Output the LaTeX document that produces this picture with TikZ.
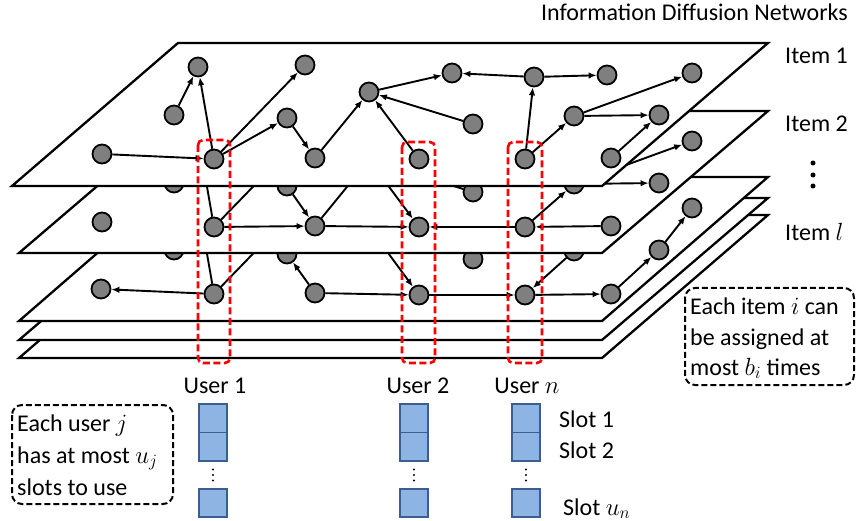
\documentclass[tikz,border=0pt]{standalone}
\usepackage{fontspec}
\setmainfont{Carlito}
\usetikzlibrary{arrows.meta}
\definecolor{ndgray}{HTML}{7F7F7F}
\definecolor{slotfill}{HTML}{8EB4E3}
\definecolor{slotdraw}{HTML}{3A5F8E}
\begin{document}
\begin{tikzpicture}[x=1pt,y=-1pt,
  font=\fontsize{24}{28}\selectfont,
  plane/.style={draw=black, line width=2.3pt, fill=white, line join=miter},
  nd/.style={circle, draw=black, fill=ndgray, line width=1.8pt, minimum size=19pt, inner sep=0pt},
  ar/.style={line width=1.9pt, -{Latex[length=8pt,width=6.5pt]}},
  ln/.style={line width=1.9pt},
  ubox/.style={draw=red, line width=2.6pt, dash pattern=on 7pt off 3.5pt, rounded corners=5pt},
  slot/.style={draw=slotdraw, fill=slotfill, line width=1.8pt, minimum width=28pt, minimum height=28.5pt, inner sep=0pt},
  note/.style={draw=black, line width=2pt, dash pattern=on 6pt off 3pt, rounded corners=10pt},
  lbl/.style={anchor=base west, inner sep=0pt},
  ulbl/.style={anchor=base, inner sep=0pt}
]
\useasboundingbox (0,0) rectangle (857,521);

% ---- lower planes ----
\draw[plane] (19,358) -- (602,358) -- (768,215) -- (185,215) -- cycle;
\draw[plane] (19,340) -- (602,340) -- (768,198) -- (185,198) -- cycle;
\draw[plane] (19,321) -- (602,321) -- (768,177) -- (185,177) -- cycle;

% ---- plane 3 (Item l) ----
\node[nd] (c1) at (101,289) {};
\node[nd] (c2) at (214,294) {};
\node[nd] (c3) at (315,293) {};
\node[nd] (c4) at (419,295) {};
\node[nd] (c6) at (525,295) {};
\node[nd] (c7) at (611,294) {};
\node[nd] (c16) at (659,250) {};
\node[nd] (c13) at (692,208) {};
\node[nd] (ca1) at (198,202) {};
\node[nd] (ca2) at (305,200) {};
\node[nd] (ca5) at (369,227) {};
\node[nd] (ca3) at (174,250) {};
\node[nd] (ca4) at (287,254) {};
\node[nd] (ca14) at (473,259) {};
\node[nd] (ca15) at (574,251) {};
\draw[ar] (c2) -- (c1);
\draw[ln] (c2) -- (ca1);
\draw[ln] (c2) -- (ca2);
\draw[ar] (c3) -- (ca4);
\draw[ar] (c3) -- (c4);
\draw[ar] (ca5) -- (c4);
\draw[ar] (c4) -- (c6);
\draw[ar] (c6) -- (c7);
\draw[ar] (ca15) -- (c6);
\draw[ar] (c7) -- (c16);
\draw[ar] (c16) -- (c13);

% ---- plane 2 (Item 2) ----
\draw[plane] (19,253) -- (602,253) -- (768,111) -- (185,111) -- cycle;
\node[nd] (b1) at (102,222) {};
\node[nd] (b2) at (214,227) {};
\node[nd] (b3) at (315,226) {};
\node[nd] (b4) at (419,227) {};
\node[nd] (b6) at (525,227) {};
\node[nd] (b7) at (611,226) {};
\node[nd] (b16) at (659,183) {};
\node[nd] (b13) at (692,141) {};
\node[nd] (ba1) at (198,135) {};
\node[nd] (ba2) at (305,133) {};
\node[nd] (ba5) at (369,160) {};
\node[nd] (ba3) at (174,183) {};
\node[nd] (ba4) at (287,186) {};
\node[nd] (ba14) at (473,192) {};
\node[nd] (ba15) at (574,184) {};
\draw[ln] (b2) -- (ba1);
\draw[ln] (b2) -- (ba2);
\draw[ar] (ba4) -- (b3);
\draw[ln] (b3) -- (ba5);
\draw[ar] (ba5) -- (b4);
\draw[ar] (b2) -- (b3);
\draw[ar] (b3) -- (b4);
\draw[ar] (b6) -- (b4);
\draw[ar] (b7) -- (b6);
\draw[ar] (b6) -- (ba15);
\draw[ln] (ba14) -- (ba5);
\draw[ar] (ba15) -- (b16);
\draw[ar] (ba15) -- (b13);

% ---- plane 1 (Item 1) ----
\draw[plane] (12,186) -- (602,186) -- (768,43) -- (178,43) -- cycle;
\node[nd] (a1) at (198,67) {};
\node[nd] (a2) at (305,65) {};
\node[nd] (a3) at (174,115) {};
\node[nd] (a4) at (287,118) {};
\node[nd] (a5) at (369,92) {};
\node[nd] (a6) at (102,154) {};
\node[nd] (a7) at (214,159) {};
\node[nd] (a8) at (315,158) {};
\node[nd] (a9) at (419,159) {};
\node[nd] (a10) at (452,73) {};
\node[nd] (a11) at (534,77) {};
\node[nd] (a12) at (607,75) {};
\node[nd] (a13) at (692,73) {};
\node[nd] (a14) at (473,124) {};
\node[nd] (a15) at (574,116) {};
\node[nd] (a16) at (659,115) {};
\node[nd] (a17) at (525,159) {};
\node[nd] (a18) at (611,158) {};
\draw[ar] (a3) -- (a1);
\draw[ar] (a7) -- (a1);
\draw[ar] (a7) -- (a2);
\draw[ar] (a7) -- (a4);
\draw[ar] (a6) -- (a7);
\draw[ar] (a4) -- (a8);
\draw[ar] (a8) -- (a5);
\draw[ar] (a9) -- (a5);
\draw[ar] (a14) -- (a5);
\draw[ar] (a5) -- (a10);
\draw[ar] (a11) -- (a10);
\draw[ar] (a11) -- (a12);
\draw[ar] (a17) -- (a11);
\draw[ar] (a17) -- (a15);
\draw[ar] (a15) -- (a16);
\draw[ar] (a15) -- (a13);
\draw[ar] (a18) -- (a16);

% ---- user boxes ----
\draw[ubox] (198,140) rectangle (230,363);
\draw[ubox] (402,142) rectangle (435,363);
\draw[ubox] (508,142) rectangle (542,363);

% ---- labels ----
\node[anchor=base east, inner sep=0pt] (title) at (848,21) {Information Diffusion Networks};
\node[lbl] (it1) at (785,64) {Item 1};
\node[lbl] (it2) at (785,132) {Item 2};
\node[lbl] (itl) at (785,241) {Item $l$};
\foreach \yy in {163,175,186} \fill (813,\yy) circle (2.5pt);

\node[ulbl] (u1) at (215,393) {User 1};
\node[ulbl] (u2) at (418,393) {User 2};
\node[ulbl] (un) at (527,393) {User $n$};

% ---- slots ----
\foreach \xx/\nm in {213/s1, 414/s2, 526/sn}{
  \node[slot] (\nm a) at (\xx,418.25) {};
  \node[slot] (\nm b) at (\xx,446.75) {};
  \node[slot] (\nm c) at (\xx,503) {};
  \foreach \yy in {469.5,475,480.5} \fill (\xx,\yy) circle (1.2pt);
}
\node[lbl] (sl1) at (559,427) {Slot 1};
\node[lbl] (sl2) at (559,458) {Slot 2};
\node[lbl] (slu) at (563,515) {Slot $u_n$};

% ---- notes ----
\draw[note] (12,405) rectangle (173,504);
\node[lbl] (n1) at (17,431) {Each user $j$};
\node[lbl] (n2) at (17,463) {has at most $u_j$};
\node[lbl] (n3) at (17,495) {slots to use};

\draw[note] (685,288) rectangle (854,385);
\node[lbl] (m1) at (690,315) {Each item $i$ can};
\node[lbl] (m2) at (690,345) {be assigned at};
\node[lbl] (m3) at (690,375) {most $b_i$ times};
\end{tikzpicture}
\end{document}
